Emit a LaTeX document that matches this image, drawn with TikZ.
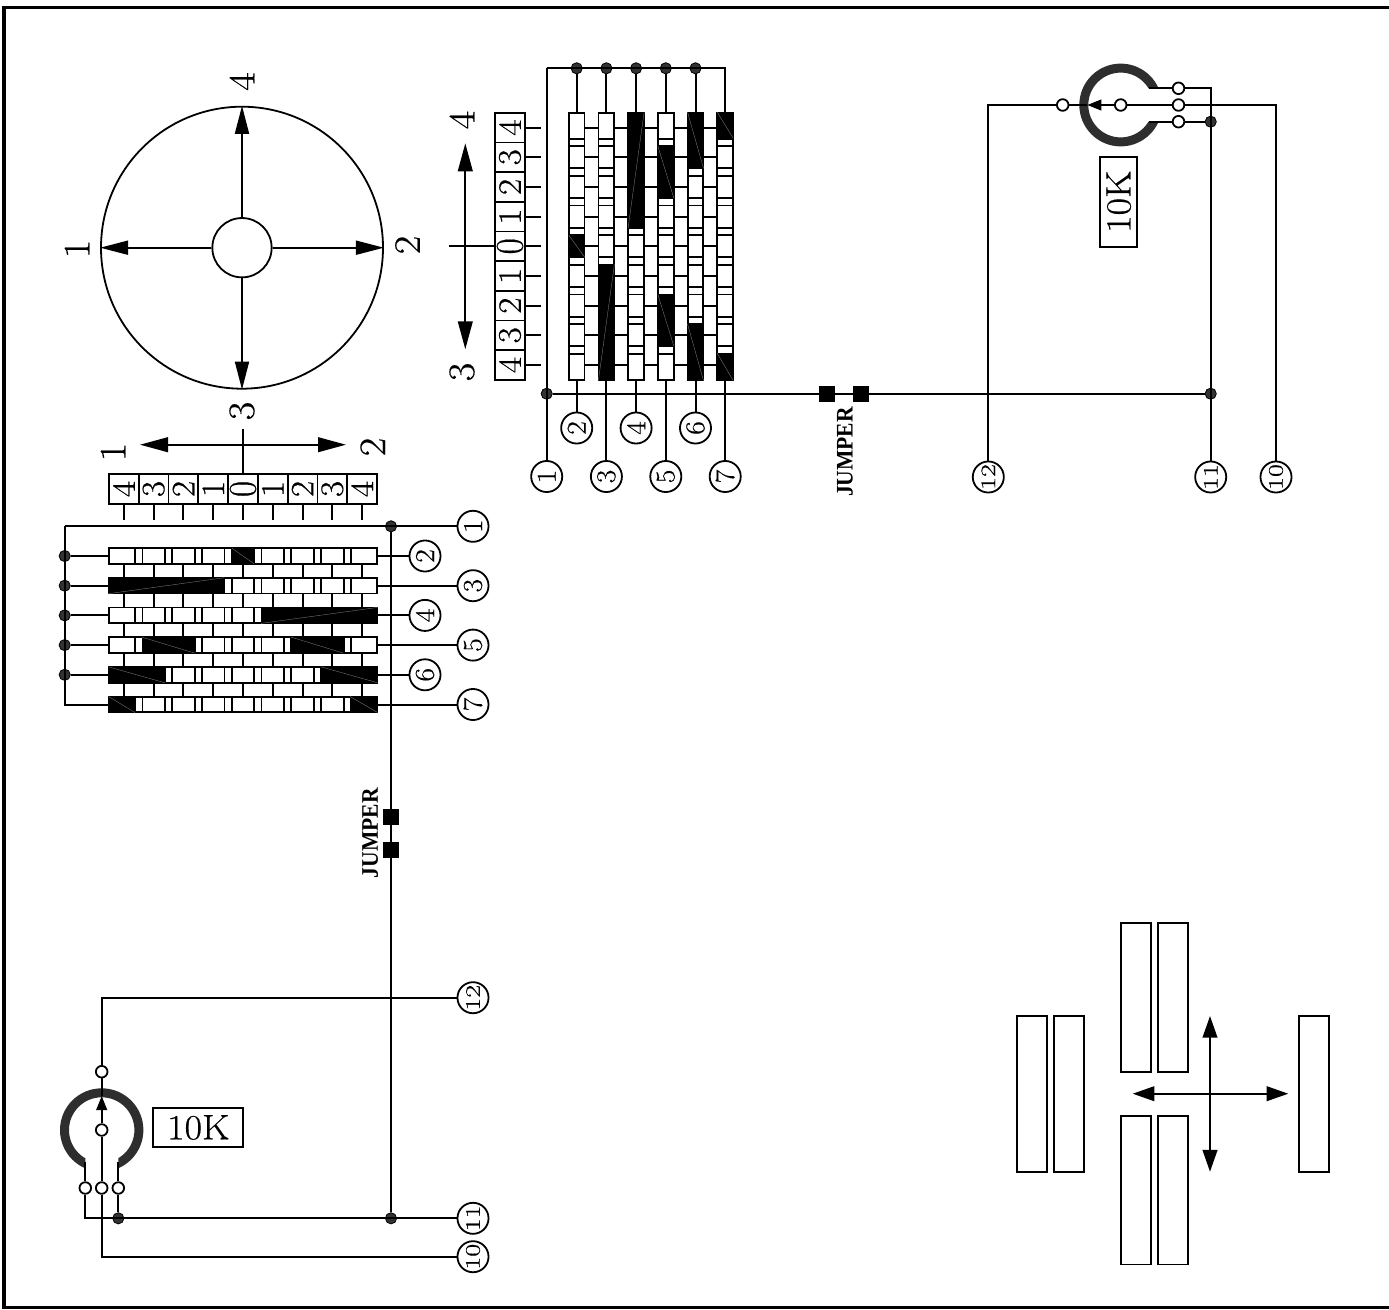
\documentclass[tikz,border=0pt]{standalone}
\usepackage{fontspec}
\setmainfont{Latin Modern Roman}[FakeBold=0.45,FakeStretch=1.08]
\newfontfamily\jumperfont{Liberation Serif}
\usetikzlibrary{arrows.meta}
\tikzset{
  wire/.style={draw=black,line width=1.5pt},
  thinline/.style={draw=black,line width=1.35pt},
  framed/.style={draw=black,line width=2.6pt},
  diagline/.style={draw=black!50,line width=.25pt},
  dotnode/.style={circle,draw=black,fill=black!80,line width=.6pt,inner sep=0pt,minimum size=8.4pt},
  termnode/.style={circle,draw=black,fill=white,line width=1.35pt,inner sep=0pt,minimum size=8.7pt},
  numnode/.style={circle,draw=black,fill=white,line width=1.35pt,inner sep=0pt,minimum size=23.3pt,rotate=90,
     font=\fontsize{20.5}{20.5}\selectfont},
  tablecell/.style={rectangle,draw=black,line width=1.35pt,inner sep=0pt,minimum size=22.3pt,rotate=90,
     font=\fontsize{24.5}{24.5}\selectfont},
  biglabel/.style={inner sep=0pt,rotate=90,font=\fontsize{28}{28}\selectfont},
  valuebox/.style={rectangle,draw=black,line width=1.35pt,inner sep=0pt,font=\fontsize{26.5}{26.5}\selectfont},
  jumperlabel/.style={inner sep=0pt,rotate=90,font=\fontsize{16.2}{16.2}\jumperfont\bfseries},
  hbar/.style={rectangle,draw=black,fill=white,line width=1.35pt,inner sep=0pt,minimum width=201pt,minimum height=11.8pt},
  vbar/.style={rectangle,draw=black,fill=white,line width=1.35pt,inner sep=0pt,minimum width=11.8pt,minimum height=200.5pt},
  jumpersq/.style={rectangle,draw=black,fill=black,inner sep=0pt,minimum size=11.5pt},
  plate/.style={rectangle,draw=black,fill=white,line width=1.35pt,inner sep=0pt},
  bigarrow/.style={wire,{Triangle[length=21pt,width=11pt]}-{Triangle[length=21pt,width=11pt]}},
  crossarrow/.style={wire,{Triangle[length=16.3pt,width=11pt]}-{Triangle[length=16.3pt,width=11pt]}},
  wheelarrow/.style={thinline,-{Triangle[length=21pt,width=10.5pt]}},
  wiperarrow/.style={wire,-{Triangle[length=10.5pt,width=8pt]}},
  ringfill/.style={fill=black!82},
}
\newcommand\zdig{\scalebox{1}[1.2]{0}}
\newcommand\twodig[1]{\fontsize{19.5}{19.5}\selectfont\scalebox{1}[.8]{#1}}
\newcommand\blackpatch[2]{\fill[black] (#1) rectangle (#2); \draw[diagline] (#1) -- (#2);}
\begin{document}
\begin{tikzpicture}[x=.75pt,y=-.75pt]
\useasboundingbox (0,0) rectangle (1389,1310);
\fill[white] (0,0) rectangle (1389,1310);
% frame
\draw[framed] (1389,7.5) -- (4.2,7.5) -- (4.2,1307.7) -- (1389,1307.7);

% ---------- selector wheel
\node[circle,thinline,minimum size=211.5pt,inner sep=0pt] (WO) at (242,247.7) {};
\node[circle,thinline,minimum size=44.5pt,inner sep=0pt] (WI) at (242,247.7) {};
\draw[wheelarrow] (WI.north) -- (WO.north);
\draw[wheelarrow] (WI.south) -- (WO.south);
\draw[wheelarrow] (WI.west) -- (WO.west);
\draw[wheelarrow] (WI.east) -- (WO.east);
\node[biglabel] (W4) at (242,81.5) {4};
\node[biglabel] (W1) at (77,249) {1};
\node[biglabel] (W2) at (407.5,245) {2};
\node[biglabel] (W3) at (242,411) {3};

% ---------- left switch: table
\foreach \d [count=\k from 0, evaluate=\k as \cx using 123.9+29.78*\k] in {4,3,2,1,\zdig,1,2,3,4}{
  \node[tablecell] (LC\k) at (\cx,489) {\d};
  \draw[wire] (LC\k.west) -- ++(0,15.3);
}
\draw[wire] (LC4.east) -- ++(0,-44);
\coordinate (LAa) at (140,444.7);
\coordinate (LAb) at (346,444.7);
\draw[bigarrow] (LAa) -- (LAb);
\node[biglabel] (LL1) at (113,452) {1};
\node[biglabel] (LL2) at (372.7,447) {2};

% left switch: bars
\foreach \i/\y in {2/556,3/585.7,4/615.4,5/645.1,6/674.8,7/704.5}{
  \node[hbar] (LB\i) at (243,\y) {};
  \foreach \j in {0,...,7}{
    \pgfmathsetmacro\bx{138.8+29.78*\j}
    \draw[thinline] (\bx-3.6,\y-8) -- (\bx-3.6,\y+8);
    \draw[thinline] (\bx+3.6,\y-8) -- (\bx+3.6,\y+8);
  }
}
\foreach \a/\b in {556/585.7,585.7/615.4,615.4/645.1,645.1/674.8,674.8/704.5}{
  \foreach \k in {0,...,8}{
    \pgfmathsetmacro\cx{123.9+29.78*\k}
    \draw[wire] (\cx,\a+8) -- (\cx,\b-8);
  }
}
% closed contacts, left
\blackpatch{231.7,548}{254.3,564}
\blackpatch{108.4,593.7}{224.3,577.7}
\blackpatch{261,623.4}{377.6,607.4}
\blackpatch{141.7,637.1}{194.7,653.1}
\blackpatch{291,637.1}{343.3,653.1}
\blackpatch{108.4,666.8}{165,682.8}
\blackpatch{321,666.8}{377.6,682.8}
\blackpatch{108.4,696.5}{135,712.5}
\blackpatch{350,696.5}{377.6,712.5}

% left switch: terminals
\node[numnode] (L1) at (473,526.3) {1};
\node[numnode] (L2) at (425,556) {2};
\node[numnode] (L3) at (473,585.7) {3};
\node[numnode] (L4) at (425,615.4) {4};
\node[numnode] (L5) at (473,645.1) {5};
\node[numnode] (L6) at (425,674.8) {6};
\node[numnode] (L7) at (473,704.5) {7};
\node[numnode] (L12) at (473,997.7) {\twodig{12}};
\node[numnode] (L11) at (473,1218.3) {\twodig{11}};
\node[numnode] (L10) at (473,1256.7) {\twodig{10}};
\coordinate (Lbus) at (64.7,526.3);
\node[dotnode] (LD1) at (391,526.3) {};
\node[dotnode] (LD11) at (391,1218.3) {};
\node[dotnode] (LD12) at (118.3,1218.3) {};
\foreach \i/\y in {2/556,3/585.7,4/615.4,5/645.1,6/674.8}{
  \node[dotnode] (LS\i) at (64.7,\y) {};
  \draw[wire] (LS\i) -- (LB\i.west);
}
\foreach \i in {2,...,7}{ \draw[wire] (LB\i.east) -- (L\i); }
\draw[wire] (L1) -- (Lbus);
\draw[wire] (Lbus) |- (LB7.west);
\node[jumpersq] (LJ1) at (391,817) {};
\node[jumpersq] (LJ2) at (391,850) {};
\draw[wire] (LD1) -- (LJ1);
\draw[wire] (LJ1) -- (LJ2);
\draw[wire] (LJ2) -- (LD11);
\node[jumperlabel] (LJL) at (370.3,833) {\scalebox{1}[1.1]{JUMPER}};

% left potentiometer
\begin{scope}
  \clip (55,1085) -- (148,1085) -- (148,1175) -- (118.3,1175) -- (118.3,1130) -- (85.3,1130) -- (85.3,1175) -- (55,1175) -- cycle;
  \fill[ringfill,even odd rule] (101.7,1130) circle[radius=41.7] (101.7,1130) circle[radius=32.7];
\end{scope}
\node[termnode] (LTa) at (85.3,1188) {};
\node[termnode] (LTb) at (101.7,1188) {};
\node[termnode] (LTc) at (118.3,1188) {};
\node[termnode] (LW) at (101.7,1130) {};
\node[termnode] (LTo) at (101.7,1071.7) {};
\coordinate (Ltip) at (101.7,1096);
\coordinate (LEa) at (85.3,1162);
\coordinate (LEc) at (118.3,1162);
\draw[wire] (LEa) -- (LTa);
\draw[wire] (LEc) -- (LTc);
\draw[wire] (LTa.south) |- (L11);
\draw[wire] (LTc) -- (LD12);
\draw[wire] (LW) -- (LTb);
\draw[wire] (LTb.south) |- (L10);
\draw[wiperarrow] (LW) -- (Ltip);
\draw[wire] (Ltip) -- (LTo);
\draw[wire] (LTo.north) |- (L12);
\node[valuebox,minimum width=67.5pt,minimum height=28.8pt] (LV) at (198.3,1127.5) {10K};

% ---------- right switch: table
\foreach \d [count=\k from 0, evaluate=\k as \cy using 127.6+29.67*\k] in {4,3,2,1,\zdig,1,2,3,4}{
  \node[tablecell] (RC\k) at (510,\cy) {\d};
  \draw[wire] (RC\k.south) -- ++(15.3,0);
}
\draw[wire] (RC4.north) -- ++(-45,0);
\coordinate (RAa) at (465.3,143.3);
\coordinate (RAb) at (465.3,349.3);
\draw[bigarrow] (RAa) -- (RAb);
\node[biglabel] (RL4) at (462,120) {4};
\node[biglabel] (RL3) at (462,372) {3};

% right switch: bars
\foreach \i/\x in {2/576.7,3/606.4,4/636.1,5/665.8,6/695.5,7/725.2}{
  \node[vbar] (RB\i) at (\x,246.35) {};
  \foreach \j in {0,...,7}{
    \pgfmathsetmacro\by{142.4+29.67*\j}
    \draw[thinline] (\x-8,\by-3.7) -- (\x+8,\by-3.7);
    \draw[thinline] (\x-8,\by+3.7) -- (\x+8,\by+3.7);
  }
}
\foreach \a/\b in {576.7/606.4,606.4/636.1,636.1/665.8,665.8/695.5,695.5/725.2}{
  \foreach \k in {0,...,8}{
    \pgfmathsetmacro\cy{127.6+29.67*\k}
    \draw[wire] (\a+8,\cy) -- (\b-8,\cy);
  }
}
% closed contacts, right
\blackpatch{568.7,235}{584.7,257.3}
\blackpatch{614.4,264.3}{598.4,380.6}
\blackpatch{644.1,112.1}{628.1,228}
\blackpatch{657.8,146}{673.8,198}
\blackpatch{657.8,294.3}{673.8,346}
\blackpatch{687.5,112.1}{703.5,168.3}
\blackpatch{687.5,324}{703.5,380.6}
\blackpatch{717.2,112.1}{733.2,138.3}
\blackpatch{717.2,353.3}{733.2,380.6}

% right switch: terminals
\node[numnode] (R1) at (546.7,476.5) {1};
\node[numnode] (R2) at (576.7,428) {2};
\node[numnode] (R3) at (606.4,476.5) {3};
\node[numnode] (R4) at (636.1,428) {4};
\node[numnode] (R5) at (665.8,476.5) {5};
\node[numnode] (R6) at (695.5,428) {6};
\node[numnode] (R7) at (725.2,476.5) {7};
\node[numnode] (R12) at (988.3,477) {\twodig{12}};
\node[numnode] (R11) at (1210.7,477) {\twodig{11}};
\node[numnode] (R10) at (1276,477) {\twodig{10}};
\coordinate (Rbus) at (546.7,68.3);
\node[dotnode] (RD1) at (546.7,393.7) {};
\node[dotnode] (RD11) at (1210.7,393.7) {};
\node[dotnode] (RD12) at (1210.7,121.7) {};
\foreach \i/\x in {2/576.7,3/606.4,4/636.1,5/665.8,6/695.5}{
  \node[dotnode] (RS\i) at (\x,68.3) {};
  \draw[wire] (RS\i) -- (RB\i.north);
}
\foreach \i in {2,...,7}{ \draw[wire] (RB\i.south) -- (R\i); }
\draw[wire] (R1) -- (Rbus);
\draw[wire] (Rbus) -| (RB7.north);
\node[jumpersq] (RJ1) at (827,393.7) {};
\node[jumpersq] (RJ2) at (860.5,393.7) {};
\draw[wire] (RD1) -- (RJ1);
\draw[wire] (RJ1) -- (RJ2);
\draw[wire] (RJ2) -- (RD11);
\node[jumperlabel] (RJL) at (845,452) {\scalebox{1}[1.1]{JUMPER}};

% right potentiometer
\begin{scope}
  \clip (1075,60) -- (1165,60) -- (1165,88.3) -- (1121,88.3) -- (1121,121.7) -- (1165,121.7) -- (1165,150) -- (1075,150) -- cycle;
  \fill[ringfill,even odd rule] (1120.7,105) circle[radius=41.4] (1120.7,105) circle[radius=32.4];
\end{scope}
\node[termnode] (RTa) at (1178.5,88.3) {};
\node[termnode] (RTb) at (1178.5,105) {};
\node[termnode] (RTc) at (1178.5,121.7) {};
\node[termnode] (RW) at (1120.7,105) {};
\node[termnode] (RTo) at (1062.7,105) {};
\coordinate (Rtip) at (1087.3,105);
\coordinate (REa) at (1149,88.3);
\coordinate (REc) at (1149,121.7);
\draw[wire] (REa) -- (RTa);
\draw[wire] (REc) -- (RTc);
\draw[wire] (RTa.east) -| (R11);
\draw[wire] (RTc) -- (RD12);
\draw[wire] (RW) -- (RTb);
\draw[wire] (RTb.east) -| (R10);
\draw[wiperarrow] (RW) -- (Rtip);
\draw[wire] (Rtip) -- (RTo);
\draw[wire] (RTo.west) -| (R12);
\node[valuebox,minimum width=28pt,minimum height=67.5pt] (RV) at (1118.7,201.7) {\rotatebox{90}{10K}};

% ---------- contact plates
\node[plate,minimum width=22.5pt,minimum height=111.3pt] (P1) at (1136,997.5) {};
\node[plate,minimum width=22.5pt,minimum height=111.3pt] (P2) at (1173.3,997.5) {};
\node[plate,minimum width=22.5pt,minimum height=111.3pt] (P3) at (1136,1190.2) {};
\node[plate,minimum width=22.5pt,minimum height=111.3pt] (P4) at (1173.3,1190.2) {};
\node[plate,minimum width=22.5pt,minimum height=116.8pt] (P5) at (1032.3,1093.9) {};
\node[plate,minimum width=22.5pt,minimum height=116.8pt] (P6) at (1069.3,1093.9) {};
\node[plate,minimum width=22.5pt,minimum height=116.8pt] (P7) at (1314.3,1093.9) {};
\coordinate (XAa) at (1210,1016);
\coordinate (XAb) at (1210,1171.7);
\coordinate (XBa) at (1132.7,1093.7);
\coordinate (XBb) at (1288.3,1093.7);
\draw[crossarrow] (XAa) -- (XAb);
\draw[crossarrow] (XBa) -- (XBb);
\end{tikzpicture}
\end{document}
